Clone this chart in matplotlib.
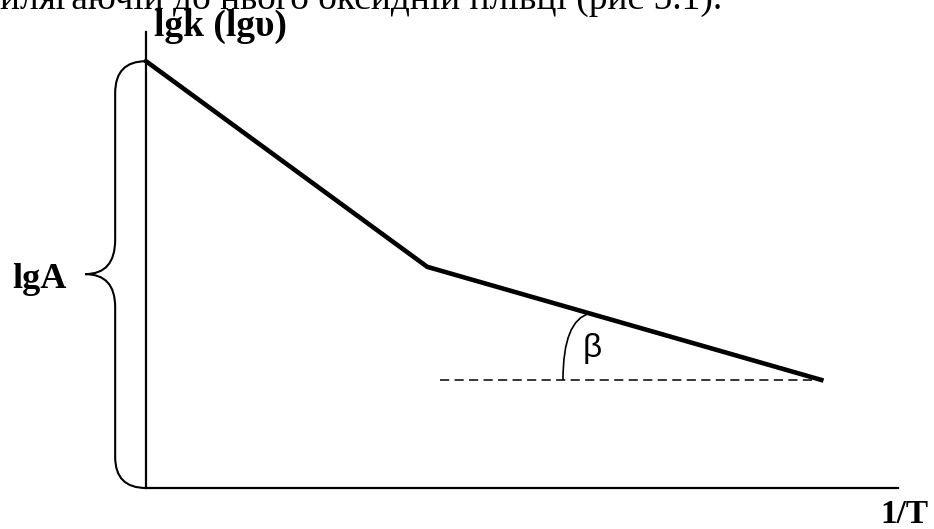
import matplotlib
matplotlib.use("Agg")
import matplotlib.pyplot as plt
from matplotlib.path import Path
from matplotlib.patches import PathPatch

# schematic Arrhenius plot, arbitrary units
inv_T = [0.0, 3.74, 8.98]
lg_k = [9.36, 4.85, 2.37]
dash_x = [3.91, 8.98]
dash_y = [2.37, 2.37]

# brace for lgA and the beta arc
brace_x = [0.0, -0.41, -0.41, -0.41, -0.41, -0.81, -0.41, -0.41, -0.41, -0.41, 0.0]
brace_y = [9.36, 9.36, 8.66, 5.44, 4.69, 4.69, 4.69, 3.97, 0.68, 0.0, 0.0]
arc_x = [5.545, 5.545, 5.90]
arc_y = [2.37, 3.68, 3.83]

serif = ["Liberation Serif", "DejaVu Serif"]

fig = plt.figure(figsize=(9.34, 5.29), dpi=100)
ax = fig.add_axes([146 / 934, 41 / 529, 752 / 934, 456 / 529])
ax.set_xlim(0, 10)
ax.set_ylim(0, 10)
ax.set_xticks([])
ax.set_yticks([])
for s in ["top", "right"]:
    ax.spines[s].set_visible(False)
for s in ["left", "bottom"]:
    ax.spines[s].set_linewidth(1.6)

ax.plot(inv_T, lg_k, color="black", lw=3.3, solid_joinstyle="miter", clip_on=False)
ax.plot(dash_x, dash_y, color="black", lw=1.1, dashes=(6, 3.5))

C3 = Path.CURVE3
codes = [Path.MOVETO, C3, C3, Path.LINETO, C3, C3, C3, C3, Path.LINETO, C3, C3]
brace = PathPatch(Path(list(zip(brace_x, brace_y)), codes), fill=False,
                  lw=1.5, color="black", clip_on=False)
ax.add_patch(brace)

arc = PathPatch(Path(list(zip(arc_x, arc_y)), [Path.MOVETO, C3, C3]),
                fill=False, lw=1.2, color="black", clip_on=False)
ax.add_patch(arc)

ax.text(5.93, 3.07, "β", fontsize=24, family=["Liberation Sans", "DejaVu Sans"],
        ha="center", va="center")
ax.text(-1.05, 4.39, "lgA", fontsize=26, fontweight="bold", family=serif,
        ha="right", va="baseline", clip_on=False)
ax.text(0.1, 9.91, "lgk (lgυ)", fontsize=27, fontweight="bold", family=serif,
        ha="left", va="baseline", clip_on=False)
ax.text(10.4, -0.77, "1/T", fontsize=24, fontweight="bold", family=serif,
        ha="right", va="baseline", clip_on=False)

# line of text cut off by the upper edge
fig.text(0.0, 1 - 9 / 529, "илягаючій до нього оксидній плівці (рис 5.1).",
         fontsize=27, family=serif, ha="left", va="baseline")

fig.savefig("out.png", dpi=100)
